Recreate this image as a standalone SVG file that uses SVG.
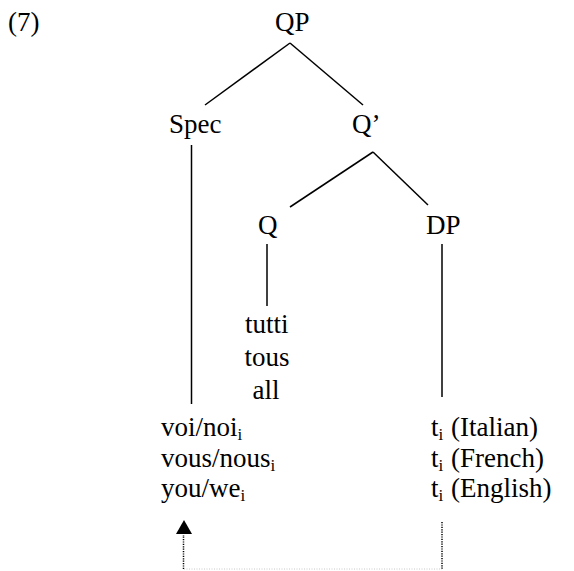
<svg xmlns="http://www.w3.org/2000/svg" width="574" height="571" viewBox="0 0 574 571">
<text x="8" y="31" font-family="Liberation Serif" font-size="27">(7)</text>
<g id="edges" stroke="#000" stroke-width="1.5" fill="none">
<line x1="290" y1="43" x2="205" y2="105"/>
<line x1="290" y1="43" x2="363" y2="105"/>
<line x1="191.5" y1="145" x2="191.5" y2="404"/>
<line x1="373" y1="152" x2="290" y2="207"/>
<line x1="373" y1="152" x2="428" y2="205"/>
<line x1="267" y1="244" x2="267" y2="306"/>
<line x1="442" y1="244" x2="442" y2="397"/>
<line x1="183.5" y1="569" x2="183.5" y2="535" stroke-dasharray="1.2 1.2"/>
<path d="M176,534 L184,520 L192,534 Z" fill="#000" stroke="none"/>
<line x1="442" y1="522" x2="442" y2="569" stroke-dasharray="1.2 1.2"/>
<line x1="184" y1="569" x2="442" y2="569" stroke="#c8c8c8" stroke-width="1" stroke-dasharray="1 1.5"/>
</g>
<g id="QP"><text x="275" y="31" font-family="Liberation Serif" font-size="27">QP</text></g>
<g id="Spec"><text x="169" y="133" font-family="Liberation Serif" font-size="27">Spec</text></g>
<g id="Qbar"><text x="352" y="133" font-family="Liberation Serif" font-size="27">Q&#8217;</text></g>
<g id="Q"><text x="258" y="234" font-family="Liberation Serif" font-size="27">Q</text></g>
<g id="DP"><text x="426" y="234" font-family="Liberation Serif" font-size="27">DP</text></g>
<g id="quant">
<text x="245" y="333" font-family="Liberation Serif" font-size="27">tutti</text>
<text x="244.5" y="366" font-family="Liberation Serif" font-size="27">tous</text>
<text x="252.5" y="399" font-family="Liberation Serif" font-size="27">all</text>
</g>
<g id="pronouns">
<text x="161" y="436" font-family="Liberation Serif" font-size="27">voi/noi<tspan font-size="17" dy="4">i</tspan></text>
<text x="161" y="467" font-family="Liberation Serif" font-size="27">vous/nous<tspan font-size="17" dy="4">i</tspan></text>
<text x="161" y="497" font-family="Liberation Serif" font-size="27">you/we<tspan font-size="17" dy="4">i</tspan></text>
</g>
<g id="traces">
<text x="431" y="436" font-family="Liberation Serif" font-size="27">t<tspan font-size="17" dy="4">i</tspan></text>
<text x="431" y="467" font-family="Liberation Serif" font-size="27">t<tspan font-size="17" dy="4">i</tspan></text>
<text x="431" y="497" font-family="Liberation Serif" font-size="27">t<tspan font-size="17" dy="4">i</tspan></text>
<text x="451" y="436" font-family="Liberation Serif" font-size="27">(Italian)</text>
<text x="451" y="467" font-family="Liberation Serif" font-size="27">(French)</text>
<text x="451" y="497" font-family="Liberation Serif" font-size="27">(English)</text>
</g>
</svg>
